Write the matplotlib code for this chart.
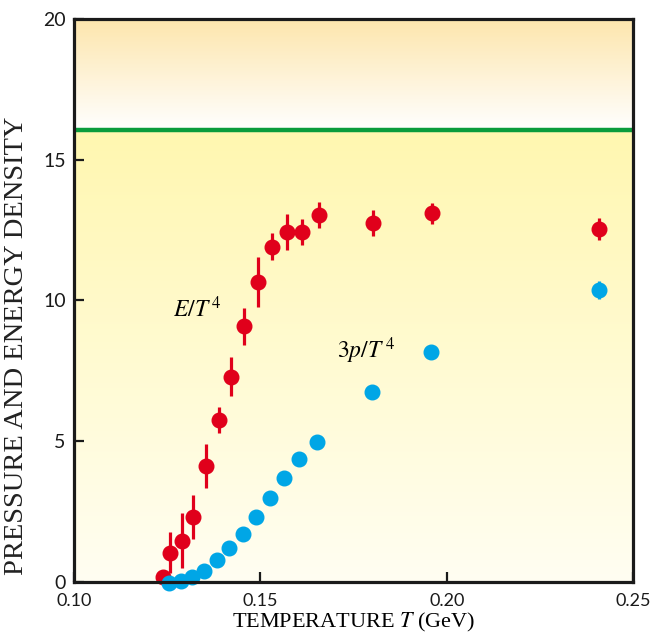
import numpy as np
import matplotlib
matplotlib.use("Agg")
import matplotlib.pyplot as plt
from matplotlib.colors import LinearSegmentedColormap

# energy density E/T^4 (lattice points with error bars)
e_T = [0.1238, 0.1258, 0.1289, 0.1319, 0.1354, 0.1388, 0.1421, 0.1456,
       0.1493, 0.1532, 0.1571, 0.1611, 0.1658, 0.1803, 0.1960, 0.2408]
e_val = [0.19, 1.04, 1.47, 2.32, 4.12, 5.75, 7.29, 9.09,
         10.66, 11.91, 12.43, 12.43, 13.03, 12.76, 13.10, 12.54]
e_err = [0.05, 0.73, 0.98, 0.78, 0.78, 0.45, 0.69, 0.66,
         0.89, 0.47, 0.64, 0.47, 0.46, 0.46, 0.38, 0.40]

# pressure 3p/T^4
p_T = [0.1256, 0.1286, 0.1316, 0.1350, 0.1385, 0.1417, 0.1453, 0.1488,
       0.1526, 0.1564, 0.1605, 0.1651, 0.1799, 0.1958, 0.2408]
p_val = [-0.04, 0.04, 0.19, 0.40, 0.78, 1.22, 1.69, 2.32,
         2.99, 3.68, 4.36, 4.97, 6.76, 8.18, 10.37]
p_err = [0, 0, 0, 0, 0, 0, 0, 0, 0, 0, 0, 0, 0, 0, 0.32]

sb_limit = 16.06  # Stefan-Boltzmann limit line
x_ticks = [0.10, 0.15, 0.20, 0.25]
x_ticklabels = ["0.10", "0.15", "0.20", "0.25"]
y_ticks = [0, 5, 10, 15, 20]

RED = "#e0001b"
BLUE = "#00a6e6"

plt.rcParams["mathtext.fontset"] = "stix"

fig = plt.figure(figsize=(6.51, 6.35), dpi=100)
ax = fig.add_axes([0.1137, 0.0835, 0.8587, 0.8866])

# background: pale yellow below the SB line fading to white, orange tint above
ys = np.linspace(0, 20, 600)
col = np.zeros((len(ys), 1, 3))
low = LinearSegmentedColormap.from_list("low", ["#fffef2", "#fff7b0"])
high = LinearSegmentedColormap.from_list("high", ["#ffffff", "#fde6ad"])
for i, y in enumerate(ys):
    if y <= sb_limit:
        col[i, 0] = low(y / sb_limit)[:3]
    else:
        col[i, 0] = high((y - sb_limit) / (20 - sb_limit))[:3]
ax.imshow(col, extent=[0.10, 0.25, 0, 20], origin="lower", aspect="auto",
          zorder=0, interpolation="bilinear")

ax.axhline(sb_limit, color="#0a9c3c", lw=3.2, zorder=2)

ax.errorbar(e_T, e_val, yerr=e_err, fmt="o", color=RED, ms=10.5,
            elinewidth=2.3, capsize=0, zorder=4, clip_on=False)
ax.errorbar(p_T, p_val, yerr=p_err, fmt="o", color=BLUE, ms=10.5,
            elinewidth=2.3, capsize=0, zorder=5, clip_on=False)

ax.text(0.1266, 9.7, r"$E/T^{\,4}$", fontsize=17, ha="left", va="center")
ax.text(0.1705, 8.2, r"$3p/T^{\,4}$", fontsize=17, ha="left", va="center")

ax.set_xlim(0.10, 0.25)
ax.set_ylim(0, 20)
ax.set_xticks(x_ticks)
ax.set_xticklabels(x_ticklabels)
ax.set_yticks(y_ticks)
ax.tick_params(direction="in", length=7, width=1.6, colors="#1a1a1a")
ax.tick_params(axis="x", labelsize=13, pad=8)
ax.tick_params(axis="y", labelsize=14, pad=6)
for lab in ax.get_xticklabels() + ax.get_yticklabels():
    lab.set_family("Lato")
for s in ax.spines.values():
    s.set_linewidth(2.3)
    s.set_color("#1a1a1a")
    s.set_zorder(6)

ax.set_xlabel(r"TEMPERATURE $T$ (GeV)", fontsize=16, family="Liberation Serif",
              labelpad=1)
ax.set_ylabel("PRESSURE AND ENERGY DENSITY", fontsize=20.5,
              family="Liberation Serif", color="#222222")
ax.yaxis.set_label_coords(-0.08, 0.42)

fig.savefig("out.png", dpi=100)
